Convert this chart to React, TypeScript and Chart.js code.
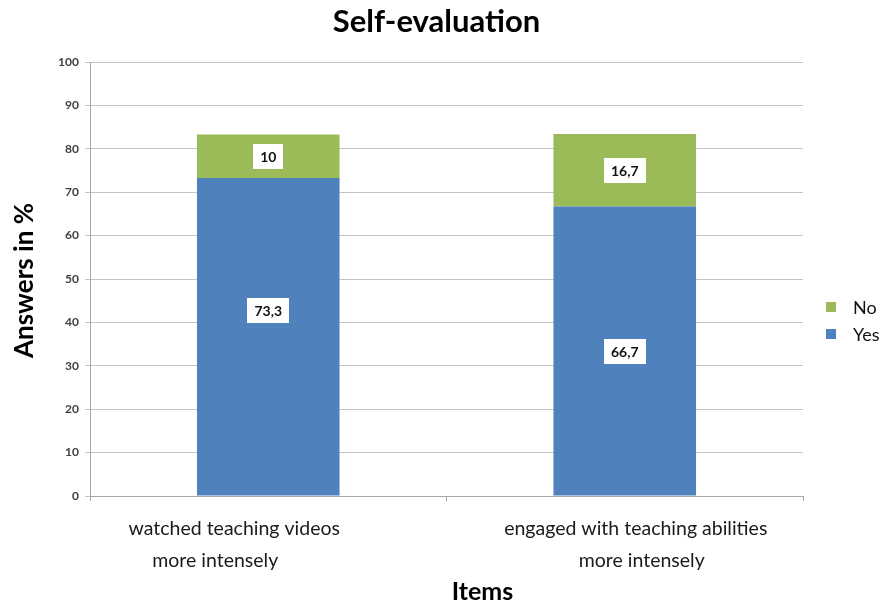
import React, { useEffect, useRef } from "react";
import { Chart, registerables } from "chart.js";

Chart.register(...registerables);

// ---- chart data ----
const categories: string[][] = [
  ["watched teaching videos", "more intensely"],
  ["engaged with teaching abilities", "more intensely"],
];
const yesValues = [73.3, 66.7];
const noValues = [10, 16.7];
const yMin = 0;
const yMax = 100;
const yStep = 10;
const seriesNames = ["Yes", "No"];
const chartTitle = "Self-evaluation";
const yAxisTitle = "Answers in %";
const xAxisTitle = "Items";

const BLUE = "#4F81BD";
const GREEN = "#9BBB59";
const FONT = "Lato, 'Open Sans', 'DejaVu Sans', sans-serif";

const fmt = (v: number) => String(v).replace(".", ",");

// Extra text drawn on the canvas: value boxes, titles, category labels, legend
const annotations = {
  id: "annotations",
  afterDatasetsDraw(chart: any) {
    const ctx: CanvasRenderingContext2D = chart.ctx;

    // value boxes in the middle of every segment
    const labelShift = [
      [-26, 0],
      [0, 0],
    ];
    ctx.save();
    ctx.font = `bold 14px ${FONT}`;
    ctx.textAlign = "center";
    ctx.textBaseline = "middle";
    chart.data.datasets.forEach((ds: any, di: number) => {
      const meta = chart.getDatasetMeta(di);
      meta.data.forEach((bar: any, i: number) => {
        const text = fmt(ds.data[i]);
        const cx = bar.x;
        const cy = (bar.y + bar.base) / 2 + (labelShift[di]?.[i] ?? 0);
        const w = ctx.measureText(text).width + 14;
        const h = 25;
        ctx.fillStyle = "#ffffff";
        ctx.fillRect(Math.round(cx - w / 2), Math.round(cy - h / 2), Math.round(w), h);
        ctx.fillStyle = "#111111";
        ctx.fillText(text, cx, cy + 1);
      });
    });
    ctx.restore();
  },
  afterDraw(chart: any) {
    const ctx: CanvasRenderingContext2D = chart.ctx;
    const area = chart.chartArea;
    const xScale = chart.scales.x;
    const midX = (area.left + area.right) / 2;

    ctx.save();
    ctx.fillStyle = "#000000";

    // chart title
    ctx.font = `bold 31px ${FONT}`;
    ctx.textAlign = "center";
    ctx.textBaseline = "alphabetic";
    ctx.fillText(chartTitle, midX - 10, 32);

    // y axis title
    ctx.save();
    ctx.font = `bold 26px ${FONT}`;
    ctx.translate(33, 358);
    ctx.rotate(-Math.PI / 2);
    ctx.textAlign = "left";
    ctx.fillText(yAxisTitle, 0, 0);
    ctx.restore();

    // category labels (two lines each)
    const lineShift = [
      [-34, -53],
      [11, 17],
    ];
    ctx.font = `19.5px ${FONT}`;
    ctx.fillStyle = "#1a1a1a";
    ctx.textAlign = "center";
    categories.forEach((lines, i) => {
      const x = xScale.getPixelForValue(i);
      lines.forEach((line, li) => {
        ctx.fillText(line, x + (lineShift[i]?.[li] ?? 0), area.bottom + 39 + li * 32);
      });
    });

    // x axis title
    ctx.fillStyle = "#000000";
    ctx.font = `bold 25px ${FONT}`;
    ctx.fillText(xAxisTitle, midX + 36, area.bottom + 104);

    // legend (top series first)
    const items = chart.data.datasets
      .map((ds: any) => ({ label: ds.label, color: ds.backgroundColor }))
      .reverse();
    ctx.font = `18px ${FONT}`;
    ctx.textAlign = "left";
    ctx.textBaseline = "middle";
    items.forEach((it: any, k: number) => {
      const y = 307 + k * 27;
      ctx.fillStyle = it.color;
      ctx.fillRect(826, y - 5, 10, 10);
      ctx.fillStyle = "#111111";
      ctx.fillText(it.label, 853, y + 1);
    });

    ctx.restore();
  },
};

export default function App() {
  const canvasRef = useRef<HTMLCanvasElement | null>(null);

  useEffect(() => {
    if (!canvasRef.current) return;
    const chart = new Chart(canvasRef.current, {
      type: "bar",
      data: {
        labels: categories.map((c) => c.join(" ")),
        datasets: [
          {
            label: seriesNames[0],
            data: yesValues,
            backgroundColor: BLUE,
            borderWidth: 0,
            categoryPercentage: 1,
            barPercentage: 0.4,
          },
          {
            label: seriesNames[1],
            data: noValues,
            backgroundColor: GREEN,
            borderWidth: 0,
            categoryPercentage: 1,
            barPercentage: 0.4,
          },
        ],
      },
      options: {
        responsive: false,
        animation: false,
        layout: { padding: { top: 62, right: 84, left: 0, bottom: 0 } },
        plugins: {
          legend: { display: false },
          title: { display: false },
          tooltip: { enabled: false },
        },
        scales: {
          x: {
            stacked: true,
            offset: true,
            ticks: { display: false },
            grid: {
              display: true,
              offset: true,
              drawOnChartArea: false,
              drawTicks: true,
              tickLength: 5,
              color: "#A6A6A6",
            },
            border: { display: true, color: "#A6A6A6" },
            afterFit: (scale: any) => {
              scale.height = 111;
            },
          },
          y: {
            stacked: true,
            min: yMin,
            max: yMax,
            ticks: {
              stepSize: yStep,
              padding: 6,
              color: "#404040",
              font: { family: FONT, size: 12, weight: "bold" },
            },
            grid: {
              color: "#C4C4C4",
              tickLength: 5,
              drawTicks: true,
            },
            border: { display: true, color: "#A6A6A6" },
            afterFit: (scale: any) => {
              scale.width = 90;
            },
          },
        },
      },
      plugins: [annotations],
    });
    return () => chart.destroy();
  }, []);

  return (
    <div style={{ position: "absolute", left: 0, top: 0, width: 887, height: 607, background: "#ffffff" }}>
      <canvas ref={canvasRef} width={887} height={607} style={{ width: 887, height: 607, display: "block" }} />
    </div>
  );
}
